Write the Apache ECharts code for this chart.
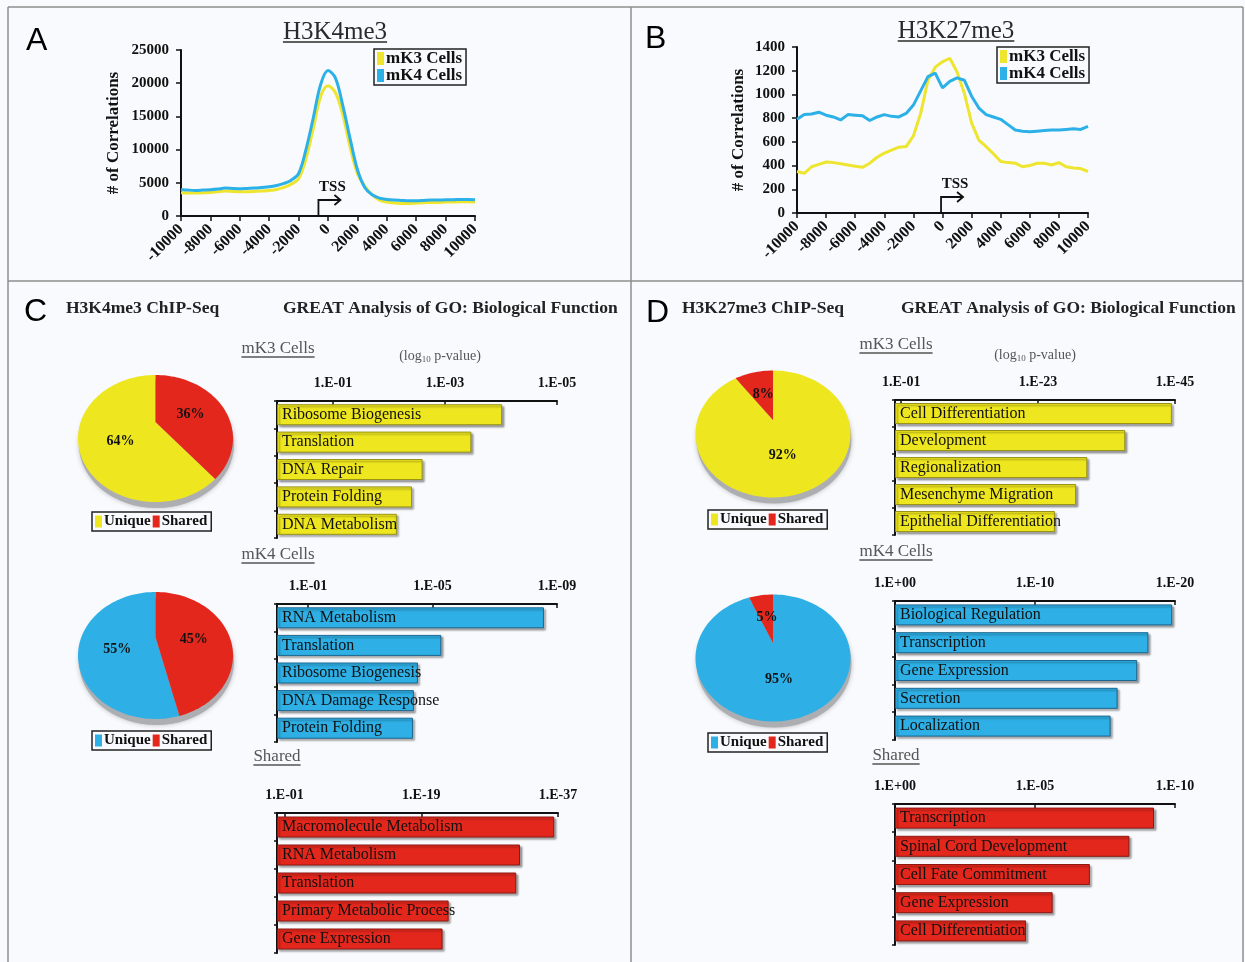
<!DOCTYPE html>
<html>
<head>
<meta charset="utf-8">
<script src="https://cdn.jsdelivr.net/npm/echarts@6/dist/echarts.min.js"></script>
<style>
html, body { margin: 0; padding: 0; background: #f9fafd; }
#fig { width: 1245px; height: 962px; }
</style>
</head>
<body>
<div id="fig"></div>
<script>
// ---- TSS profiles (bp offset from TSS) ----
const tssOffsets = [-10000,-9500,-9000,-8500,-8000,-7500,-7000,-6500,-6000,-5500,-5000,-4500,-4000,-3500,-3000,-2500,-2000,-1500,-1000,-500,0,500,1000,1500,2000,2500,3000,3500,4000,4500,5000,5500,6000,6500,7000,7500,8000,8500,9000,9500,10000];
const k4me3_mK3 = [3500,3450,3450,3500,3550,3650,3750,3700,3650,3650,3700,3750,3850,4000,4300,4800,5600,8600,13200,18000,19600,18600,15300,10400,6400,4500,3200,2400,2100,1950,1900,1900,1950,2000,2050,2050,2100,2100,2150,2150,2100];
const k4me3_mK4 = [4000,3900,3850,3900,3950,4050,4200,4150,4100,4150,4200,4300,4400,4600,4900,5400,6400,10000,14800,19800,21900,20800,16700,11700,7000,4300,3200,2700,2500,2400,2350,2300,2300,2350,2400,2400,2450,2450,2500,2500,2450];
const k27me3_mK3 = [350,335,390,410,430,425,415,405,395,385,420,470,505,530,555,560,650,840,1120,1230,1275,1305,1190,1010,760,615,560,500,435,425,420,390,400,420,420,405,425,390,380,375,350];
const k27me3_mK4 = [790,830,835,850,825,810,785,830,825,820,780,810,830,815,810,840,910,1030,1150,1180,1055,1110,1140,1120,985,885,830,810,790,745,700,690,685,690,695,700,700,705,710,705,730];
const tssArrowA = -650;
const tssArrowB = -100;

// ---- Peak overlap (percent of peaks) ----
const overlapSets = ['H3K4me3 mK3', 'H3K4me3 mK4', 'H3K27me3 mK3', 'H3K27me3 mK4'];
const uniquePct = [64, 55, 92, 95];
const sharedPct = [36, 45, 8, 5];

// ---- GREAT GO terms, values are -log10(p) ----
const k4_mK3_terms = ['Ribosome Biogenesis','Translation','DNA Repair','Protein Folding','DNA Metabolism'];
const k4_mK3_logp = [4.02, 3.47, 2.60, 2.41, 2.14];
const k4_mK4_terms = ['RNA Metabolism','Translation','Ribosome Biogenesis','DNA Damage Response','Protein Folding'];
const k4_mK4_logp = [8.58, 5.28, 4.53, 4.40, 4.37];
const k4_shared_terms = ['Macromolecule Metabolism','RNA Metabolism','Translation','Primary Metabolic Process','Gene Expression'];
const k4_shared_logp = [36.5, 32.0, 31.5, 22.6, 21.8];
const k27_mK3_terms = ['Cell Differentiation','Development','Regionalization','Mesenchyme Migration','Epithelial Differentiation'];
const k27_mK3_logp = [44.5, 37.0, 30.9, 29.1, 25.7];
const k27_mK4_terms = ['Biological Regulation','Transcription','Gene Expression','Secretion','Localization'];
const k27_mK4_logp = [19.8, 18.1, 17.3, 15.9, 15.4];
const k27_shared_terms = ['Transcription','Spinal Cord Development','Cell Fate Commitment','Gene Expression','Cell Differentiation'];
const k27_shared_logp = [9.25, 8.37, 6.96, 5.63, 4.68];

// p-value axis ticks (-log10 p) and axis ends
const k4_mK3_ticks = [1, 3, 5];      const k4_mK3_max = 5;
const k4_mK4_ticks = [1, 5, 9];      const k4_mK4_max = 9;
const k4_shared_ticks = [1, 19, 37]; const k4_shared_max = 37;
const k27_mK3_ticks = [1, 23, 45];   const k27_mK3_max = 45;
const k27_mK4_ticks = [0, 10, 20];   const k27_mK4_max = 20;
const k27_shared_ticks = [0, 5, 10]; const k27_shared_max = 10;

// ---- styling ----
const SERIF = '"Liberation Serif","Times New Roman",serif';
const YEL = '#eee71f', BLUE = '#2eb0e6', RED = '#e4271d';
const LINE_YEL = '#ede52e', LINE_BLUE = '#2cb0e8';
const INK = '#111';

// tilted-pie geometry: ellipse outline plus the apex where the slices meet
const PIE_RX = 77.5, PIE_RY = 63.5;
const pieLayout = [
  { cx: 155.5, cy: 438.5, apexY: 422, uniqueColor: YEL,  sharedFirst: true  },
  { cx: 155.5, cy: 655.5, apexY: 637, uniqueColor: BLUE, sharedFirst: true  },
  { cx: 773,   cy: 434,   apexY: 420, uniqueColor: YEL,  sharedFirst: false },
  { cx: 773,   cy: 658,   apexY: 643, uniqueColor: BLUE, sharedFirst: false }
];

function pLabel(v) {
  if (v === 0) return '1.E+00';
  return '1.E-' + (v < 10 ? '0' : '') + v;
}
function pairs(xs, ys) { return xs.map((x, i) => [x, ys[i]]); }

const grids = [
  { left: 181, top: 50, width: 294, height: 166 },   // A
  { left: 797, top: 47, width: 291, height: 166 },   // B
  { left: 277, top: 401, width: 280, height: 137 },  // C mK3
  { left: 277, top: 604, width: 280, height: 138 },  // C mK4
  { left: 277, top: 813, width: 281, height: 140 },  // C shared
  { left: 895, top: 400, width: 280, height: 135 },  // D mK3
  { left: 895, top: 601, width: 280, height: 139 },  // D mK4
  { left: 895, top: 804, width: 280, height: 141 }   // D shared
].map(g => Object.assign({ containLabel: false, outerBoundsMode: 'none' }, g));

const axisLineStyle = { color: INK, width: 2 };

function profileX(gi) {
  return {
    gridIndex: gi, type: 'value', min: -10000, max: 10000, interval: 2000,
    axisLine: { show: true, onZero: false, lineStyle: axisLineStyle },
    axisTick: { show: true, length: 5, lineStyle: { color: INK, width: 1.5 } },
    axisLabel: { rotate: 45, margin: 11, formatter: v => String(v), fontFamily: SERIF, fontWeight: 'bold', fontSize: 16, color: INK, showMinLabel: true, showMaxLabel: true },
    splitLine: { show: false }
  };
}
function profileY(gi, max, interval, gap) {
  return {
    gridIndex: gi, type: 'value', min: 0, max: max, interval: interval,
    name: '# of Correlations', nameLocation: 'middle', nameGap: gap, nameRotate: 90,
    nameTextStyle: { fontFamily: SERIF, fontWeight: 'bold', fontSize: 17, color: INK },
    axisLine: { show: true, onZero: false, lineStyle: axisLineStyle },
    axisTick: { show: true, length: 5, lineStyle: { color: INK, width: 1.5 } },
    axisLabel: { margin: 12, formatter: v => String(v), fontFamily: SERIF, fontWeight: 'bold', fontSize: 15, color: INK, showMinLabel: true, showMaxLabel: true },
    splitLine: { show: false }
  };
}
function goX(gi, max, ticks) {
  return {
    gridIndex: gi, type: 'value', position: 'top', min: 0, max: max,
    axisLine: { show: true, onZero: false, lineStyle: axisLineStyle },
    axisTick: { show: true, inside: true, length: 4, customValues: ticks, lineStyle: { color: INK, width: 1.5 } },
    axisLabel: { show: true, customValues: ticks, formatter: pLabel, margin: 11, fontFamily: SERIF, fontWeight: 'bold', fontSize: 14, color: INK },
    splitLine: { show: false }
  };
}
function goY(gi, terms) {
  return {
    gridIndex: gi, type: 'category', inverse: true, data: terms,
    axisLine: { show: true, onZero: false, lineStyle: axisLineStyle },
    axisTick: { show: true, length: 3, lineStyle: { color: INK, width: 1.5 } },
    axisLabel: { show: false },
    splitLine: { show: false }
  };
}
const barStyles = {
  yellow: { color: YEL, borderColor: '#9a9416', borderWidth: 1, shadowColor: 'rgba(0,0,0,0.35)', shadowBlur: 2, shadowOffsetX: 2, shadowOffsetY: 2 },
  blue: { color: BLUE, borderColor: '#1b6791', borderWidth: 1, shadowColor: 'rgba(0,0,0,0.35)', shadowBlur: 2, shadowOffsetX: 2, shadowOffsetY: 2 },
  red: { color: RED, borderColor: '#8c1812', borderWidth: 1, shadowColor: 'rgba(0,0,0,0.35)', shadowBlur: 2, shadowOffsetX: 2, shadowOffsetY: 2 }
};
function goBars(gi, name, values, style) {
  return {
    type: 'bar', name: name, xAxisIndex: gi, yAxisIndex: gi, data: values, barWidth: 21,
    itemStyle: barStyles[style], silent: true,
    label: { show: true, position: 'insideLeft', distance: 5, formatter: '{b}', fontFamily: SERIF, fontSize: 16, color: INK }
  };
}
function lineSeries(gi, name, ys, color, smooth) {
  return {
    type: 'line', name: name, xAxisIndex: gi, yAxisIndex: gi, data: pairs(tssOffsets, ys),
    smooth: smooth, symbol: 'none', silent: true,
    lineStyle: { color: color, width: 3 }, itemStyle: { color: color }
  };
}

// One custom series per slice kind; each data item is [pie index, percent].
function sliceSeries(kind, pcts) {
  return {
    type: 'custom', name: kind, coordinateSystem: 'none', silent: true, z: 3,
    data: pcts.map((p, i) => [i, p]),
    renderItem: function (params, api) {
      const i = api.value(0), pct = api.value(1);
      const L = pieLayout[i];
      const total = uniquePct[i] + sharedPct[i];
      let startPct;
      if (kind === 'Shared') startPct = L.sharedFirst ? 0 : uniquePct[i];
      else startPct = L.sharedFirst ? sharedPct[i] : 0;
      const t0 = -Math.PI / 2 + startPct / total * 2 * Math.PI;
      const t1 = t0 + pct / total * 2 * Math.PI;
      const pts = [[L.cx, L.apexY]];
      const n = Math.max(2, Math.ceil((t1 - t0) / (Math.PI / 90)));
      for (let k = 0; k <= n; k++) {
        const t = t0 + (t1 - t0) * k / n;
        pts.push([L.cx + PIE_RX * Math.cos(t), L.cy + PIE_RY * Math.sin(t)]);
      }
      const tm = (t0 + t1) / 2;
      const lx = L.cx + PIE_RX * Math.cos(tm) / 2;
      const ly = (L.apexY + L.cy + PIE_RY * Math.sin(tm)) / 2 - 2;
      return {
        type: 'group',
        children: [
          { type: 'polygon', shape: { points: pts }, style: { fill: kind === 'Shared' ? RED : L.uniqueColor } },
          { type: 'text', x: lx, y: ly, style: { text: pct + '%', font: 'bold 14px "Liberation Serif"', fill: INK, textAlign: 'center', textVerticalAlign: 'middle' } }
        ]
      };
    }
  };
}

function profileLegend(left, top) {
  return {
    left: left, top: top, orient: 'vertical', itemGap: 0, itemWidth: 7, itemHeight: 13, icon: 'rect',
    selectedMode: false, padding: [1, 4, 1, 3], borderColor: '#222', borderWidth: 1.5,
    textStyle: { fontFamily: SERIF, fontWeight: 'bold', fontSize: 17, color: INK, padding: [0, 0, 0, -3] },
    data: ['mK3 Cells', 'mK4 Cells']
  };
}
function pieLegend(left, top, uniqueColor) {
  return {
    left: left, top: top, orient: 'horizontal', itemGap: 2, itemWidth: 7, itemHeight: 12, icon: 'rect',
    selectedMode: false, padding: [2, 4, 2, 3], borderColor: '#222', borderWidth: 1.5,
    textStyle: { fontFamily: SERIF, fontWeight: 'bold', fontSize: 15, color: INK, padding: [0, 0, 0, -3] },
    data: [{ name: 'Unique', itemStyle: { color: uniqueColor } }, { name: 'Shared', itemStyle: { color: RED } }]
  };
}

const option = {
  animation: false,
  backgroundColor: '#f9fafd',
  grid: grids,
  xAxis: [
    profileX(0), profileX(1),
    goX(2, k4_mK3_max, k4_mK3_ticks), goX(3, k4_mK4_max, k4_mK4_ticks), goX(4, k4_shared_max, k4_shared_ticks),
    goX(5, k27_mK3_max, k27_mK3_ticks), goX(6, k27_mK4_max, k27_mK4_ticks), goX(7, k27_shared_max, k27_shared_ticks)
  ],
  yAxis: [
    profileY(0, 25000, 5000, 59), profileY(1, 1400, 200, 50),
    goY(2, k4_mK3_terms), goY(3, k4_mK4_terms), goY(4, k4_shared_terms),
    goY(5, k27_mK3_terms), goY(6, k27_mK4_terms), goY(7, k27_shared_terms)
  ],
  legend: [
    profileLegend(374, 49), profileLegend(997, 47),
    pieLegend(92, 512, YEL), pieLegend(92, 731, BLUE),
    pieLegend(708, 510, YEL), pieLegend(708, 733, BLUE)
  ],
  series: [
    lineSeries(0, 'mK3 Cells', k4me3_mK3, LINE_YEL, 0.35),
    lineSeries(0, 'mK4 Cells', k4me3_mK4, LINE_BLUE, 0.35),
    lineSeries(1, 'mK3 Cells', k27me3_mK3, LINE_YEL, false),
    lineSeries(1, 'mK4 Cells', k27me3_mK4, LINE_BLUE, false),
    goBars(2, 'H3K4me3 mK3', k4_mK3_logp, 'yellow'),
    goBars(3, 'H3K4me3 mK4', k4_mK4_logp, 'blue'),
    goBars(4, 'H3K4me3 shared', k4_shared_logp, 'red'),
    goBars(5, 'H3K27me3 mK3', k27_mK3_logp, 'yellow'),
    goBars(6, 'H3K27me3 mK4', k27_mK4_logp, 'blue'),
    goBars(7, 'H3K27me3 shared', k27_shared_logp, 'red'),
    sliceSeries('Unique', uniquePct),
    sliceSeries('Shared', sharedPct)
  ]
};

const chart = echarts.init(document.getElementById('fig'), null, { renderer: 'canvas', width: 1245, height: 962 });
chart.setOption(option);

// ---- annotations: frame, headings, TSS arrows, pie shadows ----
const mctx = document.createElement('canvas').getContext('2d');
function textWidth(text, font) { mctx.font = font; return mctx.measureText(text).width; }

const g = [];
function line(x1, y1, x2, y2, stroke, w) {
  g.push({ type: 'line', silent: true, shape: { x1, y1, x2, y2 }, style: { stroke: stroke, lineWidth: w } });
}
function text(str, x, y, font, fill, align) {
  g.push({ type: 'text', silent: true, x: x, y: y, style: { text: str, font: font, fill: fill, textAlign: align || 'left', textVerticalAlign: 'middle' } });
}
function underlined(str, cx, cy, font, fill, gap) {
  const w = textWidth(str, font);
  text(str, cx, cy, font, fill, 'center');
  line(cx - w / 2, cy + gap, cx + w / 2, cy + gap, fill, 1.3);
}
function logLabel(cx, cy) {
  const f1 = '14px "Liberation Serif"', f2 = '9px "Liberation Serif"';
  const a = '(log', b = '10', c = ' p-value)';
  const wa = textWidth(a, f1), wb = textWidth(b, f2), wc = textWidth(c, f1);
  let x = cx - (wa + wb + wc) / 2;
  text(a, x, cy, f1, '#555'); x += wa;
  text(b, x, cy + 4, f2, '#555'); x += wb;
  text(c, x, cy, f1, '#555');
}
function tssArrow(gridIdx, offset) {
  const p = chart.convertToPixel({ xAxisIndex: gridIdx, yAxisIndex: gridIdx }, [offset, 0]);
  const x = p[0], y = p[1];
  g.push({ type: 'polyline', silent: true, shape: { points: [[x, y], [x, y - 16], [x + 22, y - 16]] }, style: { stroke: INK, lineWidth: 1.8, fill: null } });
  g.push({ type: 'polyline', silent: true, shape: { points: [[x + 16, y - 21], [x + 22, y - 16], [x + 16, y - 11]] }, style: { stroke: INK, lineWidth: 1.8, fill: null } });
  text('TSS', x + 14, y - 29, 'bold 15px "Liberation Serif"', INK, 'center');
}
function pieShadow(L) {
  g.push({ type: 'ellipse', silent: true, z: -1, shape: { cx: L.cx + 1, cy: L.cy + 6, rx: PIE_RX, ry: PIE_RY },
    style: { fill: '#adaeb1', shadowBlur: 5, shadowColor: 'rgba(0,0,0,0.25)' } });
}

// frame and panel dividers
const frame = '#8e8e8e';
line(8, 7, 1243, 7, frame, 1.5);
line(8, 7, 8, 962, frame, 1.5);
line(1243, 7, 1243, 962, frame, 1.5);
line(8, 281, 1243, 281, frame, 1.5);
line(631, 7, 631, 962, frame, 1.5);

// panel letters
const letterFont = '32px "Liberation Sans"';
text('A', 26, 41, letterFont, '#000');
text('B', 645, 39, letterFont, '#000');
text('C', 24, 312, letterFont, '#000');
text('D', 646, 313, letterFont, '#000');

// profile titles
underlined('H3K4me3', 335, 32, '25px "Liberation Serif"', '#2a2a2a', 10);
underlined('H3K27me3', 956, 31, '25px "Liberation Serif"', '#2a2a2a', 10);

// GO panel headings
const headFont = 'bold 17.5px "Liberation Serif"';
text('H3K4me3 ChIP-Seq', 66, 308, headFont, '#222');
text('GREAT Analysis of GO: Biological Function', 283, 308, headFont, '#222');
text('H3K27me3 ChIP-Seq', 682, 308, headFont, '#222');
text('GREAT Analysis of GO: Biological Function', 901, 308, headFont, '#222');

const subFont = '17px "Liberation Serif"';
underlined('mK3 Cells', 278, 349, subFont, '#555', 8);
underlined('mK4 Cells', 278, 555, subFont, '#555', 8);
underlined('Shared', 277, 757, subFont, '#555', 8);
underlined('mK3 Cells', 896, 345, subFont, '#555', 8);
underlined('mK4 Cells', 896, 552, subFont, '#555', 8);
underlined('Shared', 896, 756, subFont, '#555', 8);
logLabel(440, 356);
logLabel(1035, 355);

tssArrow(0, tssArrowA);
tssArrow(1, tssArrowB);

pieLayout.forEach(pieShadow);

chart.setOption({ graphic: { elements: g } });
</script>
</body>
</html>
